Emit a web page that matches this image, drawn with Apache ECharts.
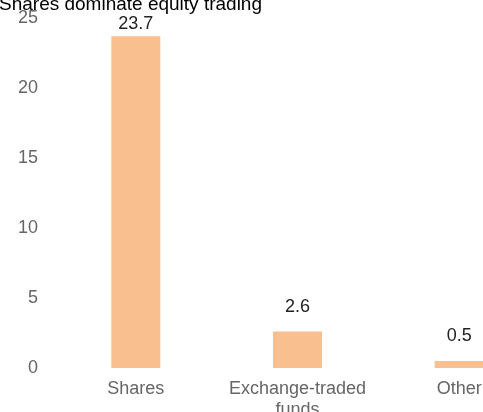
<!DOCTYPE html>
<html>
<head>
<meta charset="utf-8">
<script src="https://cdn.jsdelivr.net/npm/echarts@6/dist/echarts.min.js"></script>
<style>
  html, body { margin: 0; padding: 0; background: #fff; }
  #chart { width: 483px; height: 412px; }
</style>
</head>
<body>
<div id="chart"></div>
<script>
// data
const categories = ['Shares', 'Exchange-traded\nfunds', 'Other']
const values = [23.7, 2.6, 0.5]
const yTicks = [0, 5, 10, 15, 20, 25]

const chart = echarts.init(document.getElementById('chart'))

chart.setOption({
  animation: false,
  textStyle: {fontFamily: 'Arial, "Liberation Sans", sans-serif'},
  title: {
    text: 'Shares dominate equity trading',
    left: -6,
    top: -10,
    textStyle: {fontSize: 19, fontWeight: 'normal', color: '#000'}
  },
  // the plot runs past the right edge, so the last bar is clipped
  grid: {left: 55, width: 485, top: 18, height: 350, containLabel: false, outerBoundsMode: 'none'},
  xAxis: {
    type: 'category',
    data: categories,
    axisLine: {show: false},
    axisTick: {show: false},
    axisLabel: {color: '#666', fontSize: 18, margin: 11, lineHeight: 21, interval: 0, hideOverlap: false}
  },
  yAxis: {
    type: 'value',
    min: yTicks[0],
    max: yTicks[yTicks.length - 1],
    interval: 5,
    splitLine: {show: false},
    axisLine: {show: false},
    axisTick: {show: false},
    axisLabel: {color: '#666', fontSize: 18, margin: 17}
  },
  series: [{
    type: 'bar',
    barWidth: 49,
    itemStyle: {color: '#f9bf8e'},
    label: {
      show: true,
      position: 'top',
      distance: 16,
      color: '#222',
      fontSize: 18
    },
    data: values.map((v, i) => i === 0 ? {value: v, label: {distance: 3}} : v)
  }]
})
</script>
</body>
</html>
